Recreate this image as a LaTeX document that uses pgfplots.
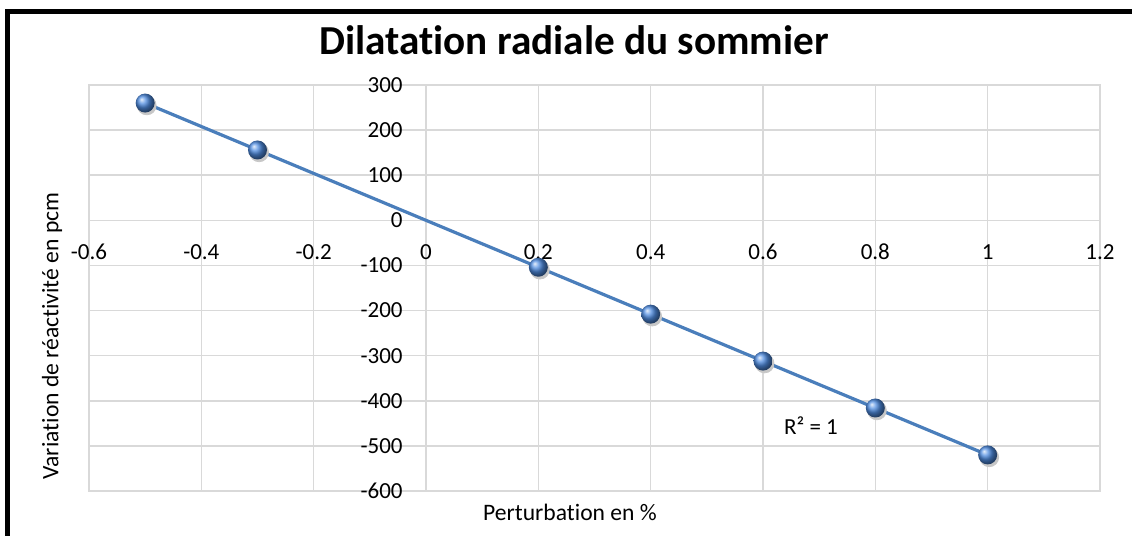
\documentclass[border=0pt]{standalone}
\usepackage{fontspec}
\setmainfont{Carlito}[Ligatures={NoCommon,NoRequired,NoContextual}]
\usepackage{pgfplots}
\pgfplotsset{compat=1.18}
\definecolor{gridgray}{HTML}{D9D9D9}
\definecolor{lineblue}{HTML}{4A7EBB}
\definecolor{ballblue}{HTML}{4F8CE0}
\begin{document}
\begin{tikzpicture}
\useasboundingbox (0,0) rectangle (566pt,268pt);
\begin{axis}[
  at={(44.5pt,22.5pt)}, anchor=south west,
  scale only axis, width=505.5pt, height=203pt,
  xmin=-0.6, xmax=1.2, ymin=-600, ymax=300,
  xtick={-0.6,-0.4,-0.2,0,0.2,0.4,0.6,0.8,1,1.2},
  xticklabels={-0.6,-0.4,-0.2,0,0.2,0.4,0.6,0.8,1,1.2},
  ytick={-600,-500,-400,-300,-200,-100,0,100,200,300},
  yticklabels={-600,-500,-400,-300,-200,-100,0,100,200,300},
  grid=major,
  grid style={draw=gridgray, line width=0.8pt},
  axis line style={draw=gridgray, line width=0.8pt},
  major tick length=0pt,
  tick style={draw=none},
  xticklabel style={anchor=center, inner sep=0pt, yshift=119.65pt, font=\fontsize{11.5}{13}\selectfont},
  yticklabel style={anchor=east, inner sep=0pt, xshift=157pt, font=\fontsize{11.5}{13}\selectfont},
  clip=false,
]
% trend line
\addplot[lineblue, line width=1.6pt, no marks] coordinates {(-0.5,260) (1,-520)};
% marker shadows
\addplot[only marks, mark=*, mark size=4.7pt, color=black!22,
  mark options={xshift=0.8pt, yshift=-1.2pt}]
  coordinates {(-0.5,260) (-0.3,156) (0.2,-104) (0.4,-208) (0.6,-312) (0.8,-416) (1,-520)};
% data points
\addplot[only marks, mark=ball, mark size=4.75pt, draw=none, mark options={ball color=ballblue, draw=none}]
  coordinates {(-0.5,260) (-0.3,156) (0.2,-104) (0.4,-208) (0.6,-312) (0.8,-416) (1,-520)};
\node[font=\fontsize{11.5}{13}\selectfont, inner sep=0pt] at (axis cs:0.6855,-454) {R² = 1};
\end{axis}
% frame
\draw[line width=2.5pt, line join=miter] (3.75pt,-2pt) -- (3.75pt,262pt) -- (570pt,262pt);
% title
\node[anchor=base, inner sep=0pt, font=\bfseries\fontsize{20.6}{24}\selectfont] at (287pt,240.5pt) {Dilatation radiale du sommier};
% axis labels
\node[anchor=base, inner sep=0pt, font=\fontsize{11.8}{14}\selectfont] at (285pt,7.5pt) {Perturbation en \%};
\node[rotate=90, inner sep=0pt, font=\fontsize{11.8}{14}\selectfont] at (26pt,100pt) {Variation de réactivité en pcm};
\end{tikzpicture}
\end{document}
